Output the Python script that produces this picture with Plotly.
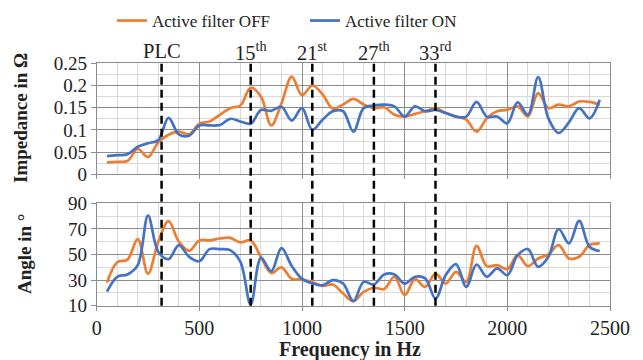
import plotly.graph_objects as go

freq = list(range(50, 2500, 50))

imp_off = [0.027, 0.028, 0.030, 0.057, 0.039, 0.072, 0.089, 0.096, 0.090, 0.114,
           0.119, 0.134, 0.149, 0.155, 0.195, 0.175, 0.110, 0.160, 0.220, 0.178,
           0.200, 0.180, 0.148, 0.157, 0.170, 0.157, 0.149, 0.151, 0.134, 0.130,
           0.136, 0.142, 0.149, 0.138, 0.130, 0.123, 0.096, 0.126, 0.142, 0.145,
           0.153, 0.130, 0.183, 0.149, 0.157, 0.153, 0.164, 0.163, 0.157]
imp_on = [0.041, 0.043, 0.045, 0.062, 0.070, 0.077, 0.127, 0.090, 0.087, 0.110,
          0.110, 0.111, 0.125, 0.119, 0.114, 0.145, 0.143, 0.152, 0.121, 0.149,
          0.100, 0.123, 0.142, 0.142, 0.096, 0.149, 0.155, 0.157, 0.153, 0.130,
          0.153, 0.142, 0.145, 0.138, 0.130, 0.130, 0.163, 0.130, 0.130, 0.115,
          0.162, 0.134, 0.219, 0.126, 0.093, 0.117, 0.149, 0.126, 0.168]
ang_off = [28, 44, 46, 62, 35, 60, 76, 60, 53, 61,
           61, 62.5, 63, 59.5, 61, 48, 35.5, 40, 31, 30.5,
           28.5, 25.5, 26.5, 19.5, 13.5, 20.8, 24, 23, 32.6, 18.2,
           30.7, 24.7, 35, 27.3, 36.5, 28.6, 56.8, 40.9, 41.7, 38.6,
           49.5, 40.9, 46.9, 50, 57.4, 46.9, 48.2, 57.4, 58.7]
ang_on = [21, 32.6, 34.4, 41.7, 80.3, 52, 46.4, 57.4, 48.2, 44.8,
          54.2, 54.2, 53.4, 44.3, 11, 47.4, 37, 55, 41, 31,
          27.5, 26, 30, 27.3, 13.5, 28.6, 26.6, 34.4, 34.4, 27.3,
          32.6, 31.3, 15.6, 33.9, 42.5, 24.7, 42.2, 32.6, 39.1, 33.9,
          49.5, 54.2, 40.4, 48.2, 69.9, 58.7, 76.2, 56.1, 52.7]

marker_freqs = [316, 750, 1050, 1350, 1650]
marker_labels = ["PLC", "15<sup>th</sup>", "21<sup>st</sup>", "27<sup>th</sup>", "33<sup>rd</sup>"]

ORANGE = "#ED7D31"
BLUE = "#4472C4"
FONT = "Liberation Serif"
MAJ = "#8c8c8c"
MIN = "#d9d9d9"
TXT = "#222222"
W, H = 643, 360

xdom = [96.7 / W, 610 / W]
ydom_top = [1 - 174.3 / H, 1 - 63.3 / H]
ydom_bot = [1 - 305.7 / H, 1 - 203.3 / H]

fig = go.Figure()
fig.add_trace(go.Scatter(x=freq, y=imp_off, name="Active filter OFF", mode="lines",
                         line=dict(color=ORANGE, width=2.7, shape="spline"),
                         xaxis="x", yaxis="y"))
fig.add_trace(go.Scatter(x=freq, y=imp_on, name="Active filter ON", mode="lines",
                         line=dict(color=BLUE, width=2.7, shape="spline"),
                         xaxis="x", yaxis="y"))
fig.add_trace(go.Scatter(x=freq, y=ang_off, name="Active filter OFF", mode="lines",
                         line=dict(color=ORANGE, width=2.7, shape="spline"),
                         xaxis="x2", yaxis="y2", showlegend=False))
fig.add_trace(go.Scatter(x=freq, y=ang_on, name="Active filter ON", mode="lines",
                         line=dict(color=BLUE, width=2.7, shape="spline"),
                         xaxis="x2", yaxis="y2", showlegend=False))

xcommon = dict(range=[0, 2500], dtick=500, tick0=0, showgrid=True, gridcolor=MAJ, gridwidth=1,
               zeroline=False, showline=True, linecolor=MAJ, linewidth=1, mirror=True,
               ticks="outside", ticklen=4, tickcolor=MAJ, automargin=False,
               minor=dict(dtick=100, tick0=0, showgrid=True, gridcolor=MIN, gridwidth=1),
               tickfont=dict(family=FONT, size=20, color=TXT), domain=xdom, fixedrange=True)
ycommon = dict(showgrid=True, gridcolor=MAJ, gridwidth=1, zeroline=False, showline=True,
               linecolor=MAJ, linewidth=1, mirror=True, ticks="outside", ticklen=5,
               tickcolor=MAJ, automargin=False,
               tickfont=dict(family=FONT, size=19, color=TXT), fixedrange=True)

fig.update_layout(
    width=W, height=H,
    margin=dict(l=0, r=0, t=0, b=0),
    paper_bgcolor="white", plot_bgcolor="white",
    font=dict(family=FONT, size=19, color=TXT),
    xaxis=dict(**xcommon, anchor="y", showticklabels=False),
    xaxis2=dict(**xcommon, anchor="y2", showticklabels=True, ticklabelstandoff=0),
    yaxis=dict(**ycommon, domain=ydom_top, range=[0, 0.25], dtick=0.05, tick0=0,
               minor=dict(dtick=0.025, tick0=0, showgrid=True, gridcolor=MIN, gridwidth=1),
               anchor="x"),
    yaxis2=dict(**ycommon, domain=ydom_bot, range=[10, 90], dtick=20, tick0=10,
                minor=dict(dtick=10, tick0=10, showgrid=True, gridcolor=MIN, gridwidth=1),
                anchor="x2"),
    legend=dict(orientation="h", x=112 / W, xanchor="left", y=1 - 21 / H, yanchor="middle",
                font=dict(family=FONT, size=17, color=TXT), entrywidth=148,
                entrywidthmode="pixels", bgcolor="rgba(0,0,0,0)", traceorder="normal"),
    showlegend=True,
)

for f, lab in zip(marker_freqs, marker_labels):
    fig.add_shape(type="line", xref="x", yref="paper", x0=f, x1=f,
                  y0=1 - 305.7 / H, y1=1 - 61.5 / H,
                  line=dict(color="black", width=2.5, dash="8px,5px"), layer="above")
    fig.add_annotation(x=f, xref="x", y=1 - 51 / H, yref="paper", text=lab, showarrow=False,
                       xanchor="center", yanchor="middle",
                       font=dict(family=FONT, size=20.5, color=TXT))

fig.add_annotation(x=21 / W, xref="paper", y=1 - 118 / H, yref="paper",
                   text="<b>Impedance in Ω</b>", textangle=-90, showarrow=False,
                   xanchor="center", yanchor="middle",
                   font=dict(family=FONT, size=19, color=TXT))
fig.add_annotation(x=24 / W, xref="paper", y=1 - 254 / H, yref="paper",
                   text="<b>Angle in °</b>", textangle=-90, showarrow=False,
                   xanchor="center", yanchor="middle",
                   font=dict(family=FONT, size=19, color=TXT))
fig.add_annotation(x=350 / W, xref="paper", y=1 - 349.5 / H, yref="paper",
                   text="<b>Frequency in Hz</b>", showarrow=False,
                   xanchor="center", yanchor="middle",
                   font=dict(family=FONT, size=20, color=TXT))

fig.write_html("out.html", config=dict(displayModeBar=False),
               post_script="document.body.style.margin='0px';document.body.style.overflow='hidden';")
